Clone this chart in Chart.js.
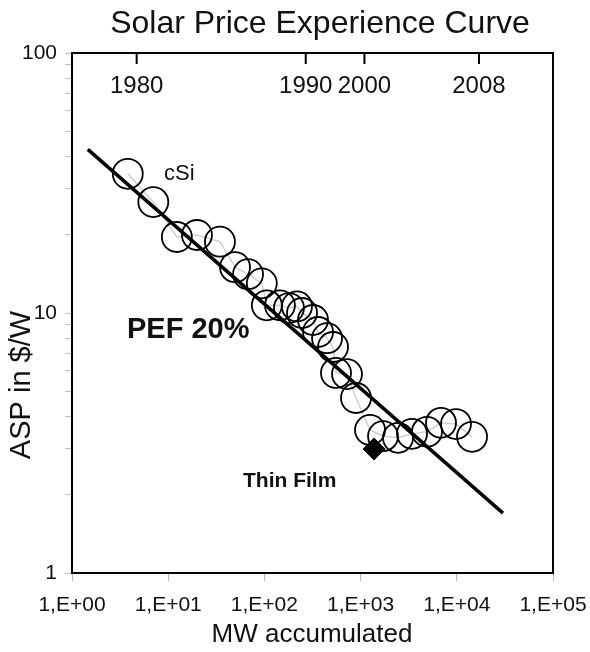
<!DOCTYPE html>
<html>
<head>
<meta charset="utf-8">
<script src="https://cdn.jsdelivr.net/npm/chart.js@4.4.1/dist/chart.umd.min.js"></script>
<style>
html,body{margin:0;padding:0;background:#fff;}
canvas{display:block;}
</style>
</head>
<body>
<canvas id="c" width="590" height="652"></canvas>
<script>
// ---- data ----
const mwAccumulated = [3.8, 7.0, 12.3, 19.9, 34.5, 49.5, 67.6, 94, 106, 145, 180, 218, 246, 320, 361, 448, 517, 555, 722, 896, 1253, 1711, 2449, 3423, 4898, 6850, 9810, 14400];
const aspPerWatt    = [34.3, 26.7, 19.6, 19.95, 18.8, 15.0, 14.1, 13.0, 10.7, 10.7, 10.45, 10.6, 10.0, 9.4, 8.45, 8.0, 7.4, 5.88, 5.82, 4.71, 3.55, 3.36, 3.31, 3.43, 3.49, 3.78, 3.74, 3.34];
const fitMW  = [1.46, 30200];
const fitASP = [42.6, 1.70];
const thinFilmMW  = [1380];
const thinFilmASP = [3.0];
const yearLabels = ['1980', '1990', '2000', '2008'];
const yearMW     = [4.7, 269, 1096, 17000];
const xTickValues = [1, 10, 100, 1000, 10000, 100000];
const xTickLabels = ['1,E+00', '1,E+01', '1,E+02', '1,E+03', '1,E+04', '1,E+05'];
const yTickValues = [1, 10, 100];
const yTickLabels = ['1', '10', '100'];

const toPts = (xs, ys) => xs.map((x, i) => ({x: x, y: ys[i]}));
const FONT = '"Liberation Sans", Arial, Helvetica, sans-serif';

const decorPlugin = {
  id: 'decor',
  afterDatasetsDraw(chart) {
    const ctx = chart.ctx;
    const a = chart.chartArea;
    const xs = chart.scales.x;
    ctx.save();
    // frame
    ctx.strokeStyle = '#000';
    ctx.lineWidth = 2;
    ctx.strokeRect(a.left, a.top, a.right - a.left, a.bottom - a.top);
    // top year ticks & labels
    ctx.fillStyle = '#111';
    ctx.font = '24px ' + FONT;
    ctx.textAlign = 'center';
    ctx.textBaseline = 'middle';
    yearMW.forEach((v, i) => {
      const px = xs.getPixelForValue(v);
      ctx.beginPath();
      ctx.moveTo(px, a.top);
      ctx.lineTo(px, a.top + 11);
      ctx.stroke();
      ctx.fillText(yearLabels[i], px, a.top + 33);
    });
    // title
    ctx.font = '32px ' + FONT;
    ctx.fillText('Solar Price Experience Curve', 320, 24);
    // x title
    ctx.font = '26px ' + FONT;
    ctx.fillText('MW accumulated', 312, 635);
    // y title
    ctx.save();
    ctx.translate(22, 385);
    ctx.rotate(-Math.PI / 2);
    ctx.font = '29px ' + FONT;
    ctx.fillText('ASP in $/W', 0, 0);
    ctx.restore();
    // annotations
    ctx.textAlign = 'left';
    ctx.font = '22px ' + FONT;
    ctx.fillText('cSi', 164, 174);
    ctx.font = 'bold 29px ' + FONT;
    ctx.fillText('PEF 20%', 127, 330);
    ctx.font = 'bold 21px ' + FONT;
    ctx.fillText('Thin Film', 243, 481);
    ctx.restore();
  }
};

new Chart(document.getElementById('c'), {
  type: 'scatter',
  data: {
    datasets: [
      {
        label: 'fit',
        data: toPts(fitMW, fitASP),
        showLine: true,
        borderColor: '#000',
        borderWidth: 3.5,
        pointRadius: 0,
        order: 0
      },
      {
        label: 'Thin Film',
        data: toPts(thinFilmMW, thinFilmASP),
        pointStyle: 'rectRot',
        pointRadius: 11,
        backgroundColor: '#000',
        borderColor: '#000',
        borderWidth: 1,
        order: 1
      },
      {
        label: 'cSi',
        data: toPts(mwAccumulated, aspPerWatt),
        pointStyle: 'circle',
        pointRadius: 15,
        backgroundColor: 'rgba(0,0,0,0)',
        borderColor: '#000',
        borderWidth: 1.8,
        order: 2
      },
      {
        label: 'cSi path',
        data: toPts(mwAccumulated, aspPerWatt),
        showLine: true,
        borderColor: '#cfcfcf',
        borderWidth: 1.5,
        pointRadius: 0,
        order: 3
      }
    ]
  },
  options: {
    responsive: false,
    devicePixelRatio: 1,
    animation: false,
    events: [],
    layout: {padding: {top: 53, right: 37, left: 0, bottom: 0}},
    plugins: {legend: {display: false}, title: {display: false}, tooltip: {enabled: false}},
    scales: {
      x: {
        type: 'logarithmic',
        position: 'bottom',
        min: 1,
        max: 100000,
        afterBuildTicks: (s) => { s.ticks = xTickValues.map(v => ({value: v})); },
        afterFit: (s) => { s.height = 79; s.paddingLeft = 0; s.paddingRight = 0; },
        ticks: {
          autoSkip: false,
          maxRotation: 0,
          padding: 12,
          color: '#111',
          font: {family: FONT, size: 21},
          callback: (v) => { const i = xTickValues.indexOf(v); return i >= 0 ? xTickLabels[i] : ''; }
        },
        grid: {drawOnChartArea: false, drawTicks: true, tickLength: 8, color: '#bbb'},
        border: {display: false}
      },
      y: {
        type: 'logarithmic',
        position: 'left',
        min: 1,
        max: 100,
        afterBuildTicks: (s) => {
          const t = [];
          for (let d = 0; d < yTickValues.length - 1; d++) {
            for (let m = 1; m <= 9; m++) t.push({value: m * yTickValues[d]});
          }
          t.push({value: yTickValues[yTickValues.length - 1]});
          s.ticks = t;
        },
        afterFit: (s) => { s.width = 72; s.paddingTop = 0; s.paddingBottom = 0; },
        ticks: {
          autoSkip: false,
          padding: 8,
          color: '#111',
          font: {family: FONT, size: 21},
          callback: (v) => { const i = yTickValues.indexOf(v); return i >= 0 ? yTickLabels[i] : ''; }
        },
        grid: {drawOnChartArea: false, drawTicks: true, tickLength: 7, color: '#bbb'},
        border: {display: false}
      }
    }
  },
  plugins: [decorPlugin]
});
</script>
</body>
</html>
